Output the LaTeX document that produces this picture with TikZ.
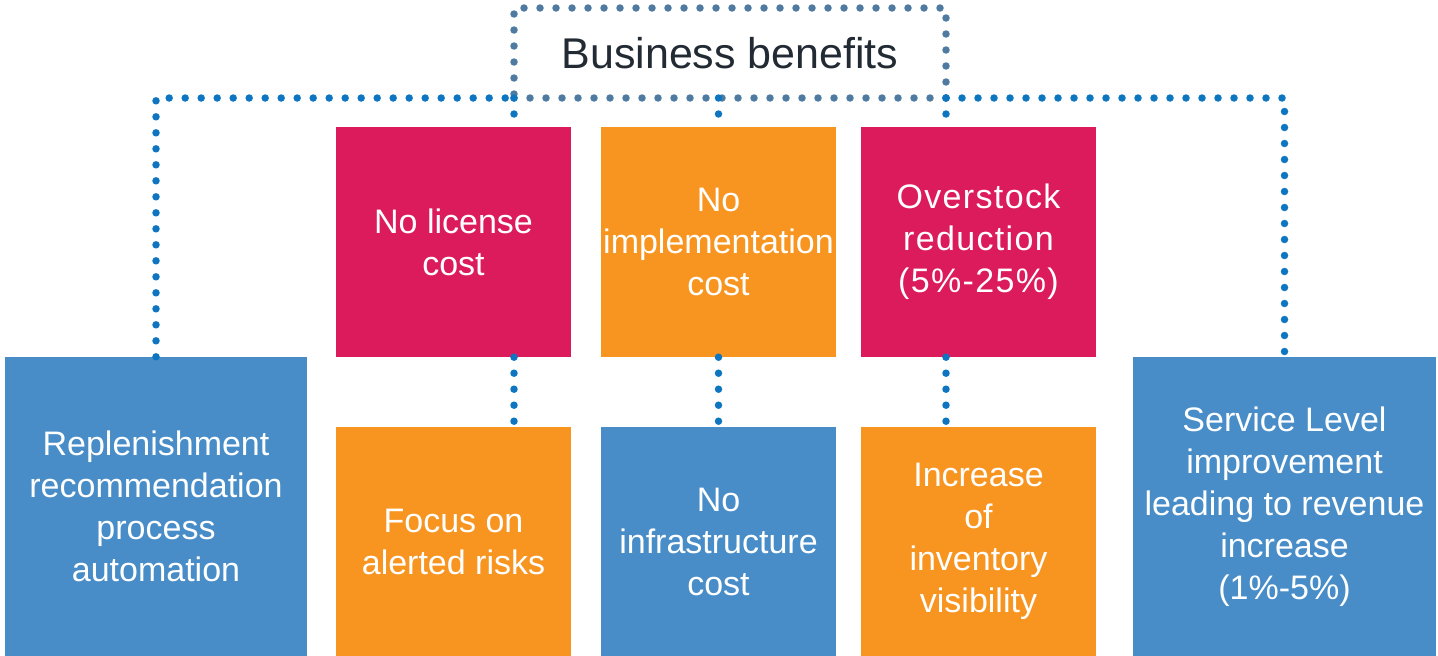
\documentclass[tikz,border=0pt]{standalone}
\usepackage{fontspec}
\setmainfont{Liberation Sans}
\definecolor{boxblue}{HTML}{488DC7}
\definecolor{boxpink}{HTML}{DC1B5C}
\definecolor{boxorange}{HTML}{F79520}
\definecolor{dotblue}{HTML}{0E75C0}
\definecolor{dotgrey}{HTML}{4F7BA0}
\definecolor{titlegrey}{HTML}{222A33}
\tikzset{
  card/.style={inner sep=0pt, text=white, align=center, font=\fontsize{34}{42}\selectfont, minimum width=235pt, minimum height=230pt},
  bigcard/.style={card, minimum width=302pt, minimum height=299pt},
  dotline/.style={line width=7.5pt, line cap=round, dash pattern=on 0pt off 16pt},
}
\begin{document}
\begin{tikzpicture}[x=1pt, y=-1pt]
\useasboundingbox (0, 0) rectangle (1438, 656);
\node[draw=dotgrey, dotline, outer sep=0pt, minimum width=432pt, minimum height=90pt, text=titlegrey, font=\fontsize{43}{50}\selectfont](benefits) at (730, 53) {Business benefits};
\node[bigcard, fill=boxblue](repl) at (156, 506.5) {Replenishment\\recommendation\\process\\automation};
\node[card, fill=boxpink](license) at (453.5, 242) {No license\\cost};
\node[card, fill=boxorange](impl) at (718.5, 242) {No\\implementation\\cost};
\node[card, fill=boxpink](overstock) at (978.5, 242) {\addfontfeature{LetterSpace=4}Overstock\\\addfontfeature{LetterSpace=4}reduction\\\addfontfeature{LetterSpace=4}(5\%-25\%)};
\node[card, fill=boxorange, minimum height=229pt](focus) at (453.5, 541.5) {Focus on\\alerted risks};
\node[card, fill=boxblue, minimum height=229pt](infra) at (718.5, 541.5) {No\\infrastructure\\cost};
\node[card, fill=boxorange, minimum height=229pt](visibility) at (978.5, 541.5) {Increase\\of\\inventory\\visibility};
\node[bigcard, fill=boxblue, minimum width=303pt](service) at (1284.5, 506.5) {Service Level\\improvement\\leading to revenue\\increase\\(1\%-5\%)};
\draw[dotline, dotblue] (repl.north) |- (benefits.south west);
\draw[dotline, dotblue] (benefits.south east) -| (service.north);
\draw[dotline, dotblue] (benefits.south west) -- (benefits.south west |- license.north);
\draw[dotline, dotblue] (benefits.south east) -- (benefits.south east |- overstock.north);
\draw[dotline, dotblue] (impl.north |- benefits.south) -- (impl.north);
\draw[dotline, dotblue] (license.south -| benefits.south west) -- (focus.north -| benefits.south west);
\draw[dotline, dotblue] (impl.south) -- (infra.north);
\draw[dotline, dotblue] (overstock.south -| benefits.south east) -- (visibility.north -| benefits.south east);
\end{tikzpicture}
\end{document}
